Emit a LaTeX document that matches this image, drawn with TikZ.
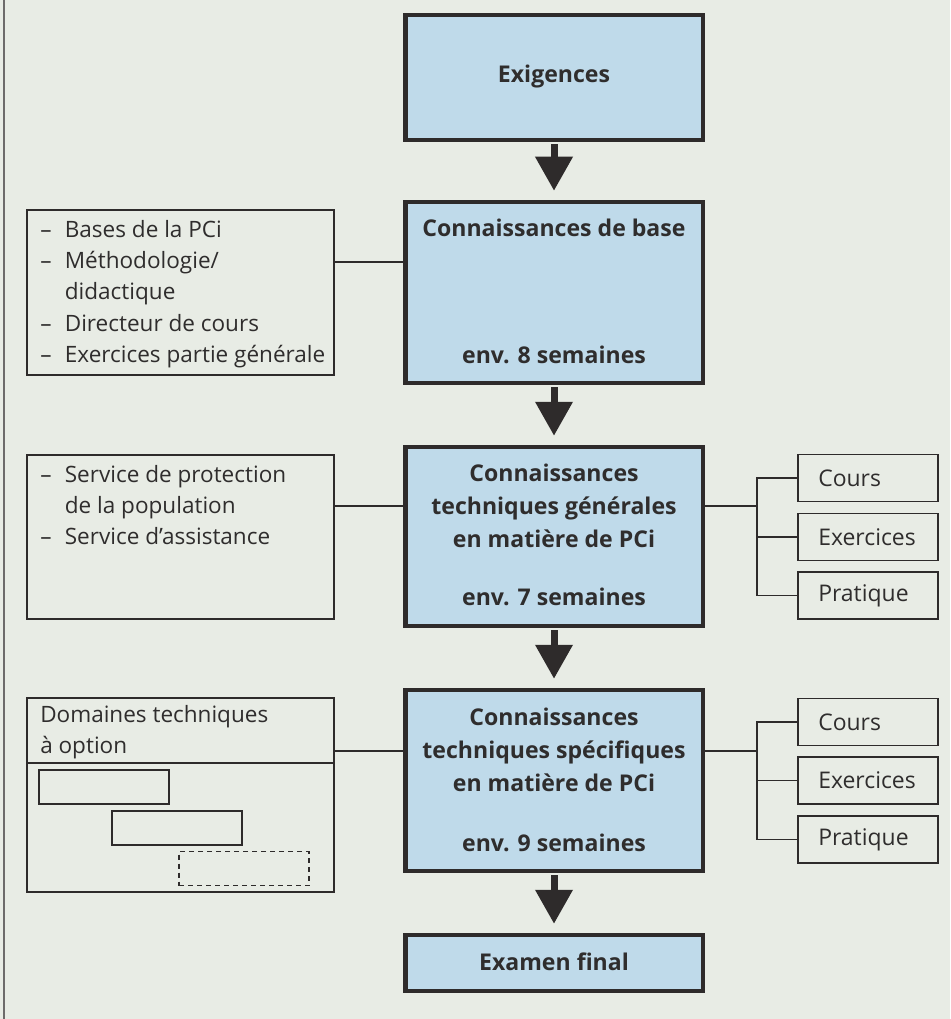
\documentclass[tikz,border=0pt]{standalone}
\usepackage{fontspec}
\setmainfont{Open Sans}
\usetikzlibrary{arrows.meta}
\def\pxu{0.75pt}
\definecolor{bg}{HTML}{E8ECE5}
\definecolor{boxfill}{HTML}{BFDAEA}
\definecolor{ink}{HTML}{2E2B2B}
\definecolor{txt}{HTML}{2F2D2D}
\tikzset{
  mainbox/.style={draw=ink, line width=4.5*\pxu, fill=boxfill, minimum width=297.5*\pxu, inner sep=0},
  sidebox/.style={draw=ink, line width=1.4*\pxu, minimum width=307*\pxu, inner sep=0},
  smallbox/.style={draw=ink, line width=1.4*\pxu, minimum width=140*\pxu, inner sep=0},
  innerbox/.style={draw=ink, line width=1.4*\pxu, minimum width=130*\pxu, minimum height=34*\pxu, inner sep=0},
  conn/.style={draw=ink, line width=1.4*\pxu},
  bigarrow/.style={draw=ink, line width=7*\pxu, -{Triangle[width=36*\pxu,length=34*\pxu]}, shorten <=2*\pxu, shorten >=9*\pxu},
  maintext/.style={text=txt, align=center, inner sep=0, font=\fontsize{17.3}{24.75}\selectfont\bfseries},
  sidetext/.style={text=txt, align=left, inner sep=0, font=\fontsize{16.9}{23.5}\selectfont},
  smalltext/.style={text=txt, inner sep=0, font=\fontsize{17.2}{18}\selectfont},
}
\begin{document}
\begin{tikzpicture}[x=0.75pt,y=-0.75pt]
\useasboundingbox (0,0) rectangle (950,1019);
\fill[bg] (0,0) rectangle (950,1019);
\draw[ink!70, line width=1.2*\pxu] (4,0) -- (4,1019);

% main column
\node[mainbox, minimum height=125*\pxu] (b1) at (554,77.5) {};
\node[maintext] (t1) at (554,77) {Exigences};
\node[mainbox, minimum height=181*\pxu] (b2) at (554,292.5) {};
\node[maintext] (t2) at (554,228) {Connaissances de base};
\node[maintext] (e2) at (554,355) {env. 8 semaines};
\node[mainbox, minimum height=179*\pxu] (b3) at (554,536.5) {};
\node[maintext] (t3) at (554,506) {Connaissances\\techniques générales\\en matière de PCi};
\node[maintext] (e3) at (554,597) {env. 7 semaines};
\node[mainbox, minimum height=181*\pxu] (b4) at (554,780.5) {};
\node[maintext] (t4) at (554,750) {Connaissances\\techniques spécifiques\\en matière de PCi};
\node[maintext] (e4) at (554,843) {env. 9 semaines};
\node[mainbox, minimum height=56*\pxu] (b5) at (554,963) {};
\node[maintext] (t5) at (554,962) {Examen final};

\draw[bigarrow] (b1.south) -- (b2.north);
\draw[bigarrow] (b2.south) -- (b3.north);
\draw[bigarrow] (b3.south) -- (b4.north);
\draw[bigarrow] (b4.south) -- (b5.north);

% left boxes
\node[sidebox, minimum height=165*\pxu] (L1) at (180.5,292.5) {};
\node[sidetext, anchor=north west] (L1t) at (40,215) {\begin{tabular}{@{}l@{\hspace{10pt}}l@{}}
– & Bases de la PCi\\
– & Méthodologie/\\
  & didactique\\
– & Directeur de cours\\
– & Exercices partie générale
\end{tabular}};
\node[sidebox, minimum height=164*\pxu] (L2) at (180.5,537) {};
\node[sidetext, anchor=north west] (L2t) at (40,460) {\begin{tabular}{@{}l@{\hspace{10pt}}l@{}}
– & Service de protection\\
  & de la population\\
– & Service d’assistance
\end{tabular}};
\node[sidebox, minimum height=194*\pxu] (L3) at (180.5,795) {};
\node[sidetext, anchor=north west] (L3t) at (40,705) {Domaines techniques\\à option};
\coordinate (d3) at (0,763);
\draw[conn] (L3.west |- d3) -- (L3.east |- d3);
\node[innerbox] (i1) at (104,787) {};
\node[innerbox] (i2) at (177,828) {};
\node[innerbox, dashed, dash pattern=on 5*\pxu off 4*\pxu] (i3) at (244,868.5) {};

\coordinate (j1) at (0,262);
\coordinate (j2) at (0,506);
\coordinate (j4) at (0,751);
\draw[conn] (L1.east |- j1) -- (b2.west |- j1);
\draw[conn] (L2.east |- j2) -- (b3.west |- j2);
\draw[conn] (L3.east |- j4) -- (b4.west |- j4);

% right boxes
\node[smallbox, minimum height=47*\pxu] (c1) at (868,478) {};
\node[smalltext, anchor=west] (c1t) at (818,478) {Cours};
\node[smallbox, minimum height=47*\pxu] (x1) at (868,537) {};
\node[smalltext, anchor=west] (x1t) at (818,537) {Exercices};
\node[smallbox, minimum height=47*\pxu] (p1) at (868,595.5) {};
\node[smalltext, anchor=west] (p1t) at (818,595.5) {Pratique};
\node[smallbox, minimum height=47*\pxu] (c2) at (868,722) {};
\node[smalltext, anchor=west] (c2t) at (818,722) {Cours};
\node[smallbox, minimum height=47*\pxu] (x2) at (868,780.5) {};
\node[smalltext, anchor=west] (x2t) at (818,780.5) {Exercices};
\node[smallbox, minimum height=47*\pxu] (p2) at (868,839.5) {};
\node[smalltext, anchor=west] (p2t) at (818,839.5) {Pratique};

\coordinate (k1) at (757,506);
\coordinate (k2) at (757,751);
\draw[conn] (b3.east |- k1) -- (k1);
\draw[conn] (c1.west) -- (c1.west -| k1) -- (p1.west -| k1) -- (p1.west);
\draw[conn] (x1.west) -- (x1.west -| k1);
\draw[conn] (b4.east |- k2) -- (k2);
\draw[conn] (c2.west) -- (c2.west -| k2) -- (p2.west -| k2) -- (p2.west);
\draw[conn] (x2.west) -- (x2.west -| k2);
\end{tikzpicture}
\end{document}
